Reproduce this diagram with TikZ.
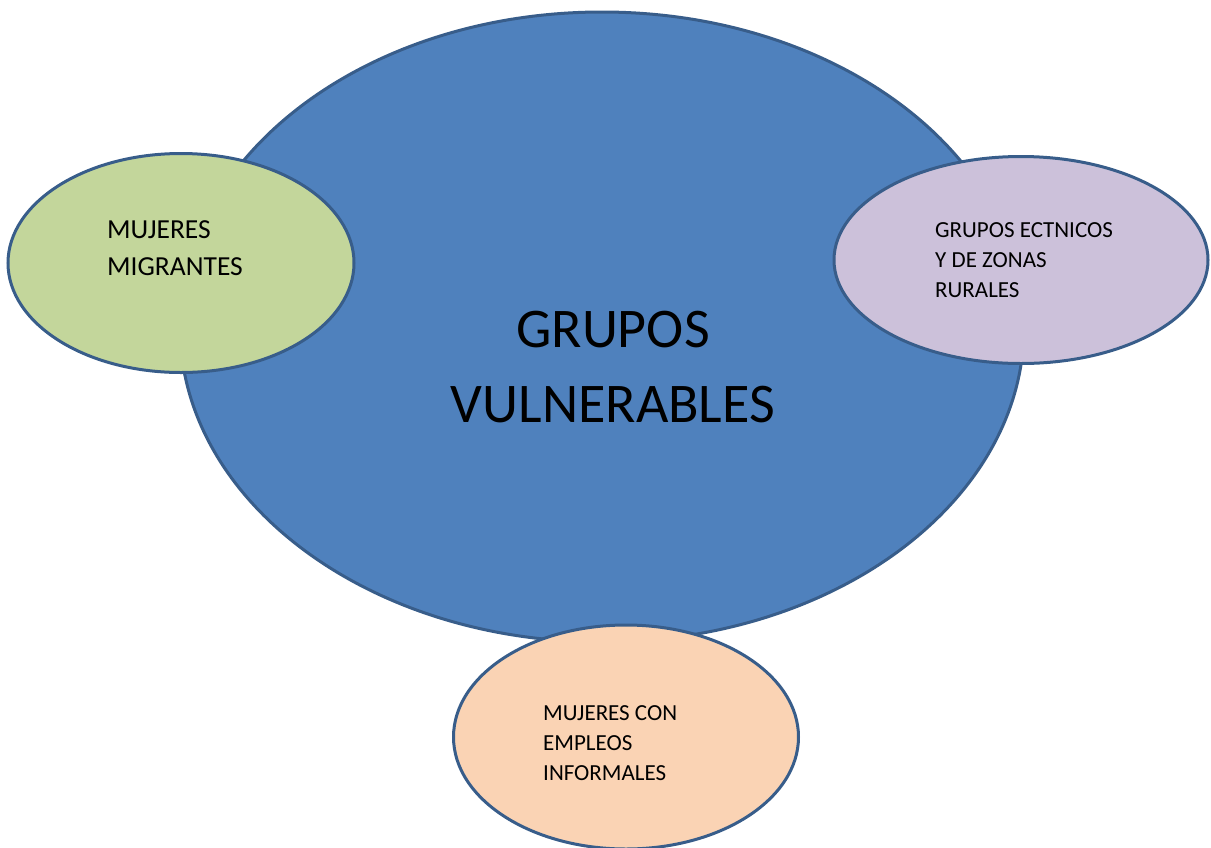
\documentclass[tikz,border=0pt]{standalone}
\usepackage{fontspec}
\setmainfont{Carlito}
\usepackage{xcolor}
\usetikzlibrary{shapes.geometric,positioning}

\definecolor{bigblue}{HTML}{4F81BD}
\definecolor{edgeblue}{HTML}{385D8A}
\definecolor{greenfill}{HTML}{C3D69B}
\definecolor{lilacfill}{HTML}{CCC1DA}
\definecolor{peachfill}{HTML}{FAD3B4}

\begin{document}
\begin{tikzpicture}[
    x=1pt, y=-1pt,
    bubble/.style={
        ellipse,
        draw=edgeblue,
        line width=3pt,
        inner sep=0pt
    },
    smalltxt/.style={
        align=left,
        inner sep=0pt,
        anchor=base west,
        font=\fontsize{23}{30}\selectfont
    }
]

\clip (0,0) rectangle (1211,847);

% Central group
\node[bubble, fill=bigblue, minimum width=844pt, minimum height=630pt] (groups) at (602,327) {};
\node[align=center, inner sep=0pt, font=\fontsize{56}{75}\selectfont] (groupstext) at (613,367) {GRUPOS\\VULNERABLES};

% Migrant women
\node[bubble, fill=greenfill, minimum width=346pt, minimum height=219pt] (migrant) at (181,263) {};
\node[smalltxt, font=\fontsize{27.5}{37}\selectfont] (migranttext) at (107,275) {MUJERES\\MIGRANTES};

% Ethnic and rural groups
\node[bubble, fill=lilacfill, minimum width=374pt, minimum height=207pt] (ethnic) at (1021,260) {};
\node[smalltxt] (ethnictext) at (935,297) {GRUPOS ECTNICOS\\Y DE ZONAS\\RURALES};

% Informal jobs
\node[bubble, fill=peachfill, minimum width=345pt, minimum height=224pt] (informal) at (626,737) {};
\node[smalltxt] (informaltext) at (543,780) {MUJERES CON\\EMPLEOS\\INFORMALES};

\end{tikzpicture}
\end{document}
